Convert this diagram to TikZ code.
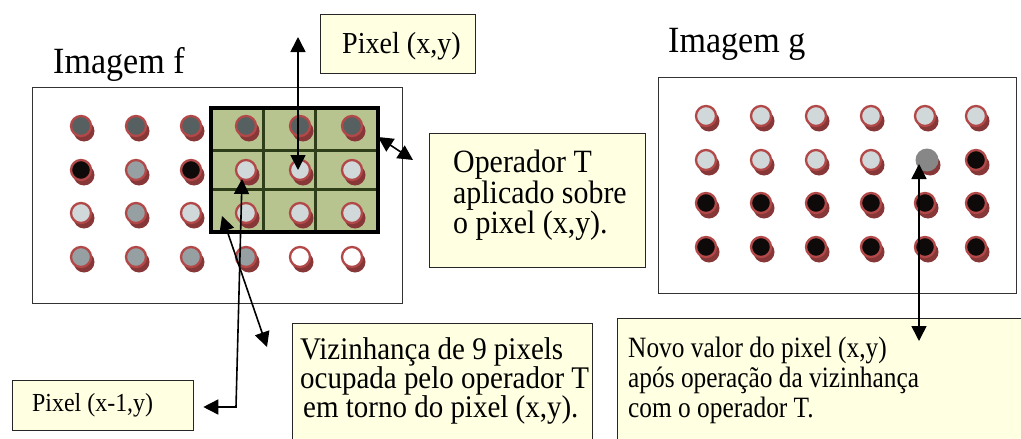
\documentclass[tikz,border=0pt]{standalone}
\usepackage{fontspec}
\setmainfont{Liberation Serif}[FakeStretch=0.92]
\newfontfamily\novofont{Liberation Serif}[FakeStretch=0.86]
\usetikzlibrary{arrows.meta}
\definecolor{boxfill}{RGB}{255,255,226}
\definecolor{gridfill}{RGB}{184,196,144}
\definecolor{gridline}{RGB}{45,62,25}
\definecolor{ring}{RGB}{178,72,72}
\definecolor{shad}{RGB}{135,55,55}
\definecolor{cD}{RGB}{86,96,96}
\definecolor{cK}{RGB}{15,10,10}
\definecolor{cG}{RGB}{150,160,162}
\definecolor{cL}{RGB}{208,216,218}
\definecolor{cW}{RGB}{255,255,255}
\definecolor{cS}{RGB}{135,135,135}
\newcommand\pixrow[4]{%
  \foreach \c/\x/\k in {#4} {%
    \fill[shad] (\x+3,#3+5) circle[radius=10.5pt];
    \node[pix,\k] (#1-#2-\c) at (\x,#3) {};
  }}
\begin{document}
\begin{tikzpicture}[x=1pt,y=-1pt,
  >={Triangle[width=15pt,length=15pt]},
  frame/.style={draw=black!80,line width=1.4pt,inner sep=0pt,anchor=north west},
  tbox/.style={draw=black!85,fill=boxfill,line width=1.3pt,inner sep=0pt,anchor=north west},
  lbl/.style={inner sep=0pt,anchor=base west},
  mlbl/.style={inner sep=0pt,anchor=north west,align=left},
  conn/.style={line width=1.6pt,<->},
  pix/.style={circle,minimum size=20pt,inner sep=0pt,draw=ring,line width=2.3pt},
  dD/.style={fill=cD},dK/.style={fill=cK},dG/.style={fill=cG},
  dL/.style={fill=cL},dW/.style={fill=cW},dS/.style={fill=cS,draw=none,minimum size=23pt}
]
\useasboundingbox (0,0) rectangle (1021,439);
\fill[white] (0,0) rectangle (1021,439);

% frames
\node[frame,minimum width=370pt,minimum height=216pt] (framef) at (32,87) {};
\node[frame,minimum width=358pt,minimum height=216pt] (frameg) at (658,77) {};

% neighbourhood grid
\node[fill=gridfill,inner sep=0pt,anchor=north west,minimum width=167pt,minimum height=124pt] (viz) at (211,108) {};
\draw[gridline,line width=3pt] (263,108)--(263,232) (315,108)--(315,232)
  (211,150)--(378,150) (211,189)--(378,189);
\draw[black,line width=4pt] (viz.north west) rectangle (viz.south east);

% image f pixels
\pixrow{f}{1}{126}{1/81/dD,2/136/dD,3/191/dD,4/246/dD,5/300/dD,6/352/dD}
\pixrow{f}{2}{170}{1/81/dK,2/136/dG,3/191/dK,4/246/dL,5/300/dL,6/352/dL}
\pixrow{f}{3}{213}{1/81/dL,2/136/dG,3/191/dL,4/246/dL,5/300/dL,6/352/dL}
\pixrow{f}{4}{257}{1/81/dG,2/136/dG,3/191/dG,4/246/dG,5/300/dW,6/352/dW}

% image g pixels
\pixrow{g}{1}{116}{1/706/dL,2/761/dL,3/816/dL,4/871/dL,5/925/dL,6/976/dL}
\pixrow{g}{2}{160}{1/706/dL,2/761/dL,3/816/dL,4/871/dL,5/927/dS,6/976/dK}
\pixrow{g}{3}{203}{1/706/dK,2/761/dK,3/816/dK,4/871/dK,5/925/dK,6/976/dK}
\pixrow{g}{4}{247}{1/706/dK,2/761/dK,3/816/dK,4/871/dK,5/925/dK,6/976/dK}

% titles
\node[lbl,font=\fontsize{37}{40}\selectfont] (titf) at (53,73) {Imagem f};
\node[lbl,font=\fontsize{37}{40}\selectfont] (titg) at (668,52) {Imagem g};

% text boxes
\node[tbox,minimum width=155pt,minimum height=59pt] (pxy) at (320,14) {};
\node[lbl,font=\fontsize{30.5}{30}\selectfont] (pxyt) at (342,53) {Pixel (x,y)};

\node[tbox,minimum width=216pt,minimum height=134pt] (op) at (429,133) {};
\node[mlbl,font=\fontsize{32.5}{29}\selectfont] (opt) at (453,150) {Operador T\\aplicado sobre\\o pixel (x,y).};

\node[tbox,minimum width=300pt,minimum height=140pt] (vz) at (292,323) {};
\node[mlbl,font=\fontsize{31.5}{29}\selectfont] (vzt) at (300,337) {Vizinhança de 9 pixels\\ocupada pelo operador T\\\hspace{3pt}em torno do pixel (x,y).};

\node[tbox,minimum width=420pt,minimum height=140pt] (nv) at (617,318) {};
\node[mlbl,font=\novofont\fontsize{29.5}{30}\selectfont] (nvt) at (628,337) {Novo valor do pixel (x,y)\\após operação da vizinhança\\com o operador T.};

\node[tbox,minimum width=181pt,minimum height=50pt] (px1) at (12,380) {};
\node[lbl,font=\fontsize{26}{28}\selectfont] (px1t) at (32,411) {Pixel (x-1,y)};

% connectors
\coordinate (a1t) at (298,37);
\draw[conn] (a1t) -- (a1t |- f-2-5.center);
\coordinate (a2a) at (378,137);
\coordinate (a2b) at (413,160);
\draw[conn] (a2a) -- (a2b);
\coordinate (a3s) at (242,179);
\coordinate (a3k) at (236,407);
\draw[conn,shorten >=9pt] (a3s) -- (a3k) -- (a3k -| px1.east);
\coordinate (a4a) at (222,216);
\coordinate (a4b) at (267,347);
\draw[conn] (a4a) -- (a4b);
\coordinate (a5t) at (919,164);
\coordinate (a5b) at (919,341);
\draw[conn] (a5t) -- (a5b);
\end{tikzpicture}
\end{document}
